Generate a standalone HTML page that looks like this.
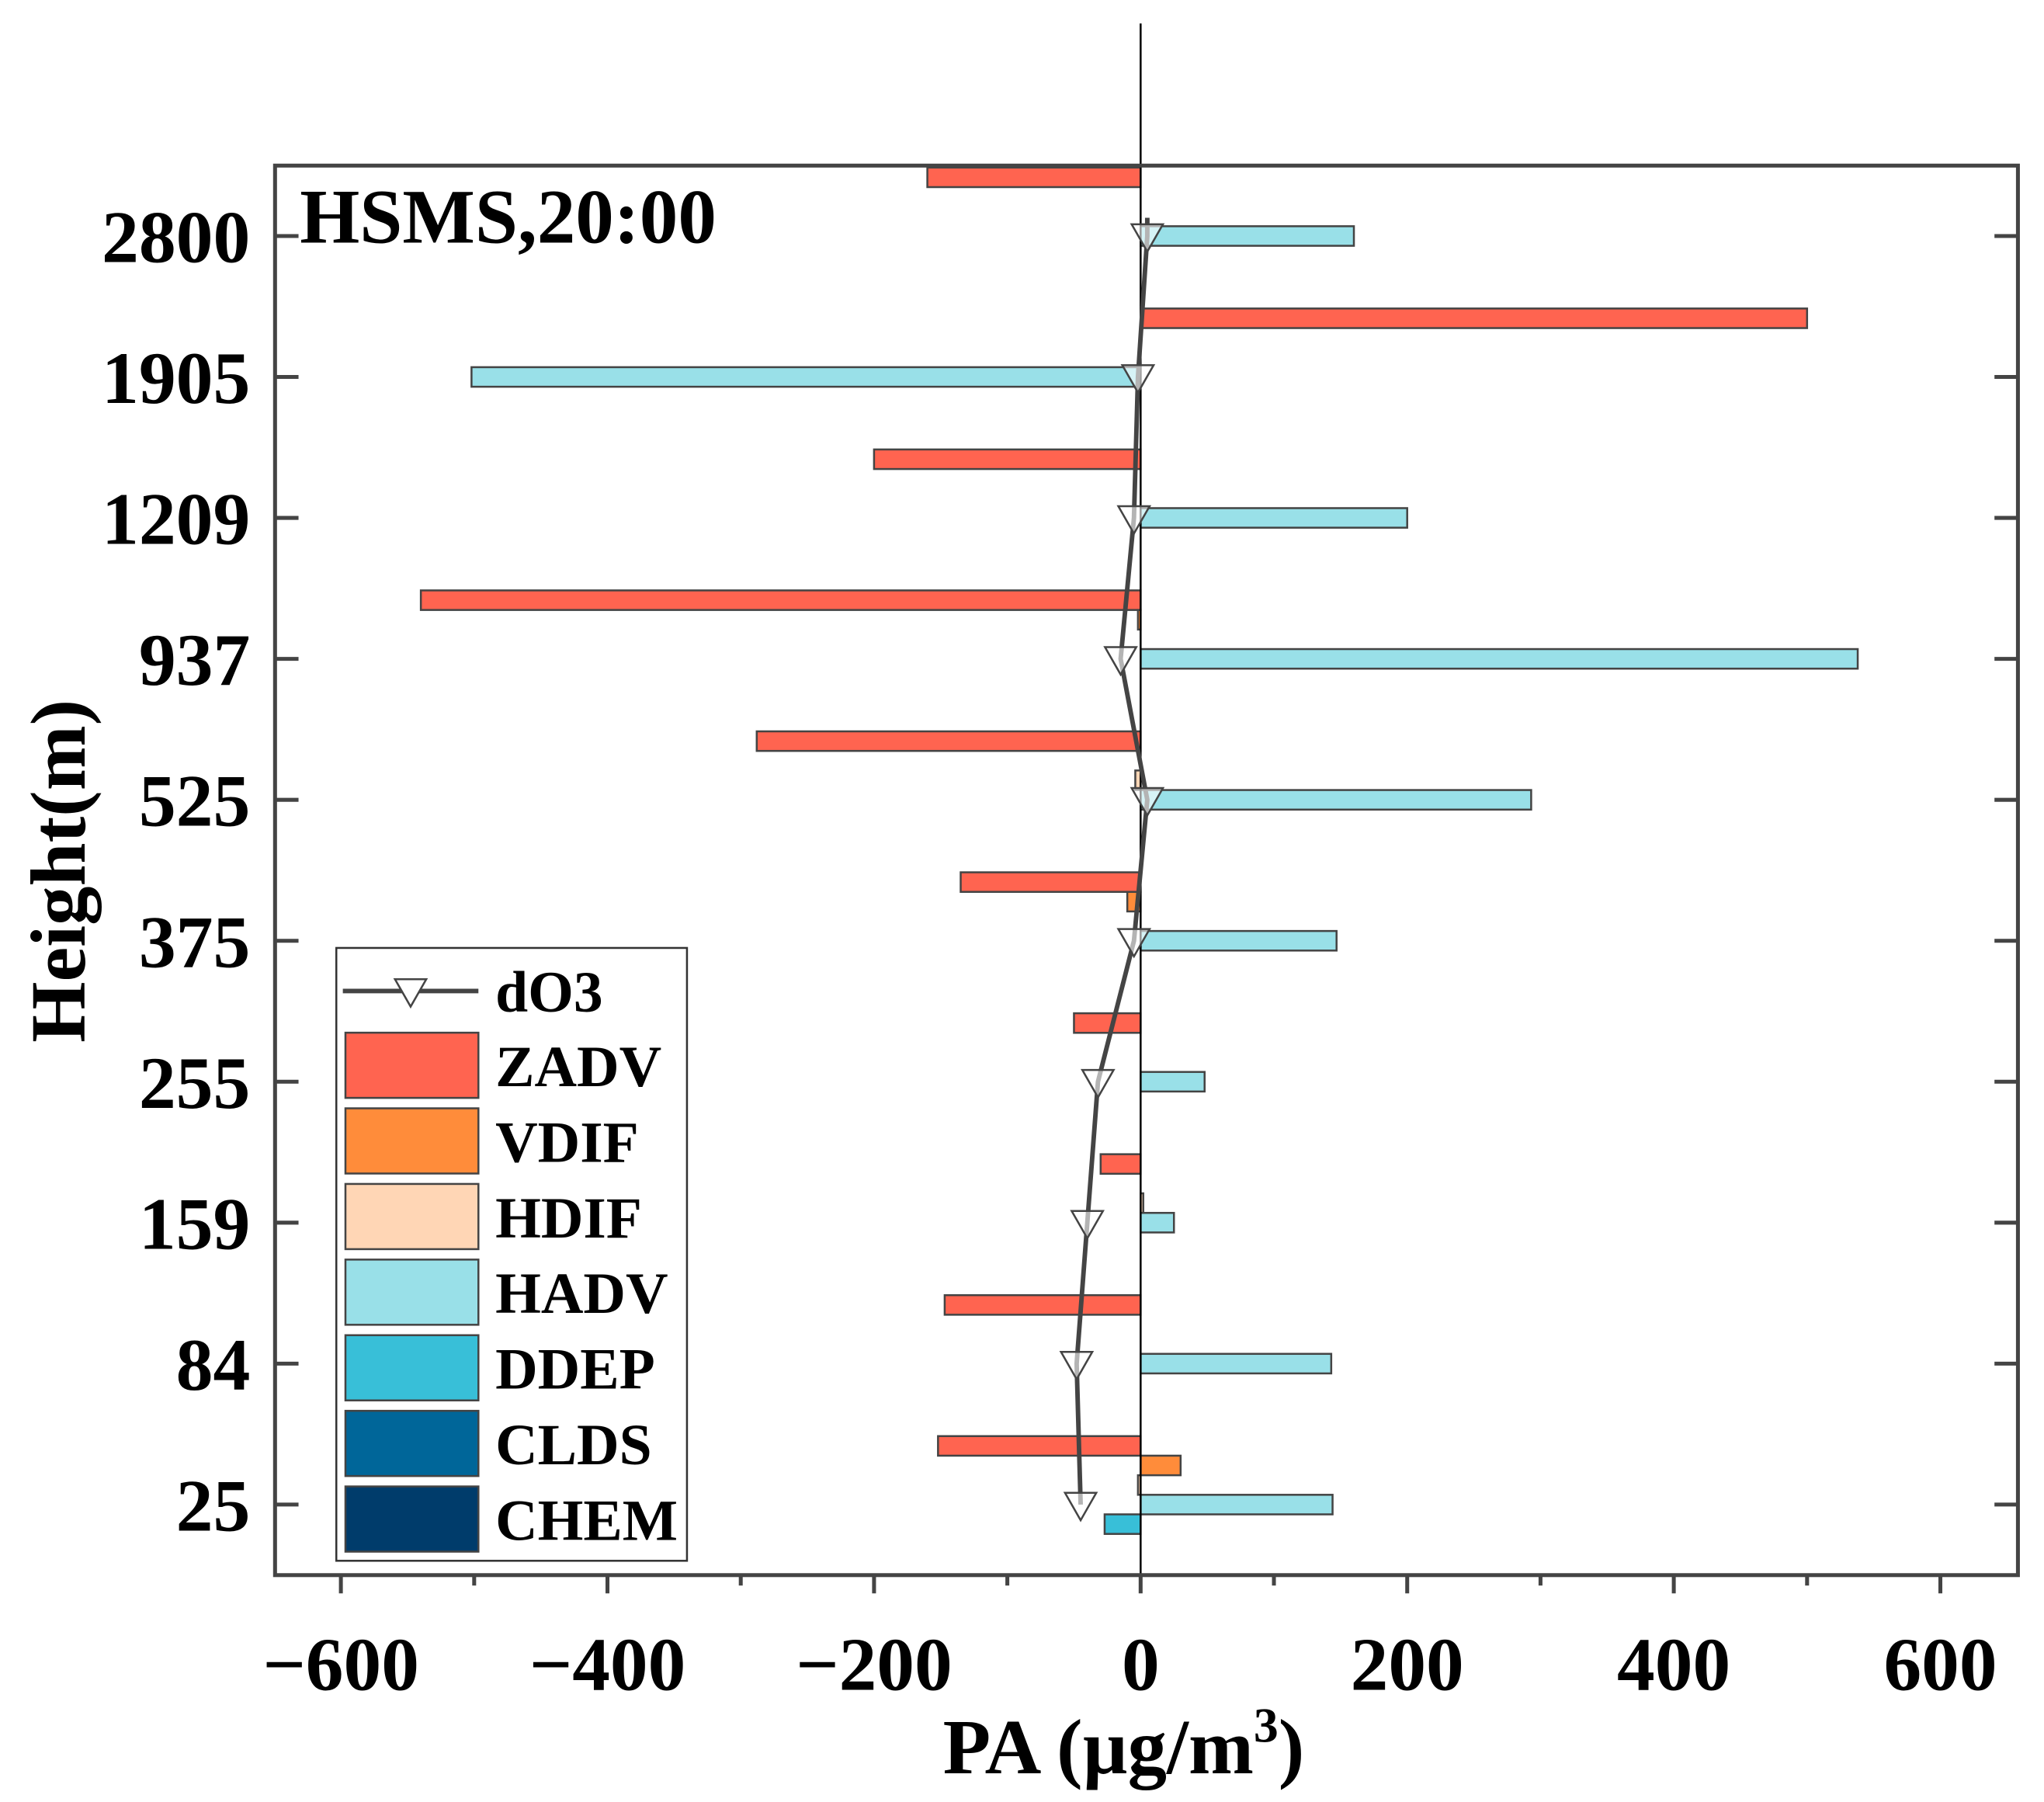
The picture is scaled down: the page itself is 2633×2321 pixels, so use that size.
<!DOCTYPE html>
<html><head><meta charset="utf-8"><style>html,body{margin:0;padding:0;background:#fff}svg{display:block}text{font-family:"Liberation Serif",serif;font-weight:bold;fill:#000}</style></head>
<body>
<svg id="chart" width="2633" height="2321" viewBox="0 0 1568 1382" preserveAspectRatio="none" xmlns="http://www.w3.org/2000/svg">
<g id="g"></g>
</svg>
<script>
const heights = ["2800","1905","1209","937","525","375","255","159","84","25"];
const seriesNames = ["ZADV","VDIF","HDIF","HADV","DDEP","CLDS","CHEM"];
const seriesColors = ["#FF6450","#FF8C3A","#FFD6B5","#99E0E8","#38BFD8","#006699","#003C6B"];
const ZADV = [-160,500,-200,-540,-288,-135,-50,-30,-147,-152];
const VDIF = [0,0,0,-2,0,-10,0,0,0,30];
const HDIF = [0,0,0,0,-4,0,0,2,0,-2];
const HADV = [160,-502,200,538,293,147,48,25,143,144];
const DDEP = [0,0,0,0,0,0,0,0,0,-27];
const CLDS = [0,0,0,0,0,0,0,0,0,0];
const CHEM = [0,0,0,0,0,0,0,0,0,0];
const dO3 = [5,-2,-5,-15,5,-5,-32,-40,-48,-45];
const xTicks = [-600,-400,-200,0,200,400,600];
const xMinor = [-500,-300,-100,100,300,500];

const NS="http://www.w3.org/2000/svg";
const g=document.getElementById('g');
const L=211,R=1548,T=127,B=1208;
const xs=v=>875+v*(1488-261)/1200;
const ys=i=>181+i*108.1;
function el(tag,attrs,parent){const e=document.createElementNS(NS,tag);for(const k in attrs)e.setAttribute(k,attrs[k]);(parent||g).appendChild(e);return e;}
const all=[ZADV,VDIF,HDIF,HADV,DDEP,CLDS,CHEM];
for(let s=0;s<7;s++){
  for(let i=0;i<heights.length;i++){
    const v=all[s][i]; if(v===0) continue;
    const y=ys(i)+(s-3)*15-7.5;
    const r=el('rect',{x:Math.min(xs(0),xs(v)),y:y,width:Math.abs(xs(v)-xs(0)),height:15,fill:seriesColors[s],stroke:'#444','stroke-width':1.5});
    
    
  }
}
const zl=el('line',{x1:xs(0),x2:xs(0),y1:18,y2:B,stroke:'#000','stroke-width':1.5});

let pts=dO3.map((v,i)=>xs(v)+','+ys(i)).join(' ');
const pl=el('polyline',{points:xs(dO3[0])+','+(ys(0)-14)+' '+pts,fill:'none',stroke:'#444','stroke-width':3.5});

dO3.forEach((v,i)=>{const x=xs(v),y=ys(i);
  const m=el('polygon',{points:(x-12)+','+(y-9)+' '+(x+12)+','+(y-9)+' '+x+','+(y+12),fill:'#fff','fill-opacity':0.6,stroke:'#444','stroke-width':1.5});
  });
const fr=el('rect',{x:L,y:T,width:R-L,height:B-T,fill:'none',stroke:'#444','stroke-width':3});

heights.forEach((h,i)=>{const y=ys(i);
  el('line',{x1:L,x2:L+18,y1:y,y2:y,stroke:'#444','stroke-width':3});
  el('line',{x1:R-18,x2:R,y1:y,y2:y,stroke:'#444','stroke-width':3});
  const t=el('text',{x:192,y:y+20,'text-anchor':'end','font-size':57});t.textContent=h;
  });
xTicks.forEach(v=>{const x=xs(v);
  el('line',{x1:x,x2:x,y1:B,y2:B+14,stroke:'#444','stroke-width':3});
  const t=el('text',{x:x,y:1296,'text-anchor':'middle','font-size':58});t.textContent=(v<0?'\u2212':'')+Math.abs(v);
  });
xMinor.forEach(v=>{el('line',{x1:xs(v),x2:xs(v),y1:B,y2:B+8,stroke:'#444','stroke-width':3});});
let t=el('text',{x:862,y:1360,'text-anchor':'middle','font-size':60});t.innerHTML='PA (\u00b5g/m<tspan font-size="38" dy="-24">3</tspan><tspan dy="24">)</tspan>';

t=el('text',{x:0,y:0,'text-anchor':'middle','font-size':60,transform:'translate(65,668) rotate(-90)'});t.textContent='Height(m)';

t=el('text',{x:230,y:186,'font-size':59});t.textContent='HSMS,20:00';

const lg=el('g',{});
el('rect',{x:258,y:727,width:269,height:470,fill:'#fff',stroke:'#333','stroke-width':1.5},lg);
el('line',{x1:263,x2:367,y1:760,y2:760,stroke:'#444','stroke-width':3.5},lg);
el('polygon',{points:'303,751 327,751 315,772',fill:'#fff',stroke:'#444','stroke-width':1.5},lg);
let lt=el('text',{x:380,y:776,'font-size':45},lg);lt.textContent='dO3';

seriesNames.forEach((n,s)=>{const y=817+s*58;
  el('rect',{x:265,y:y-25,width:102,height:50,fill:seriesColors[s],stroke:'#444','stroke-width':1.5},lg);
  const e=el('text',{x:380,y:y+16,'font-size':45},lg);e.textContent=n;
  });
</script>
</body></html>
